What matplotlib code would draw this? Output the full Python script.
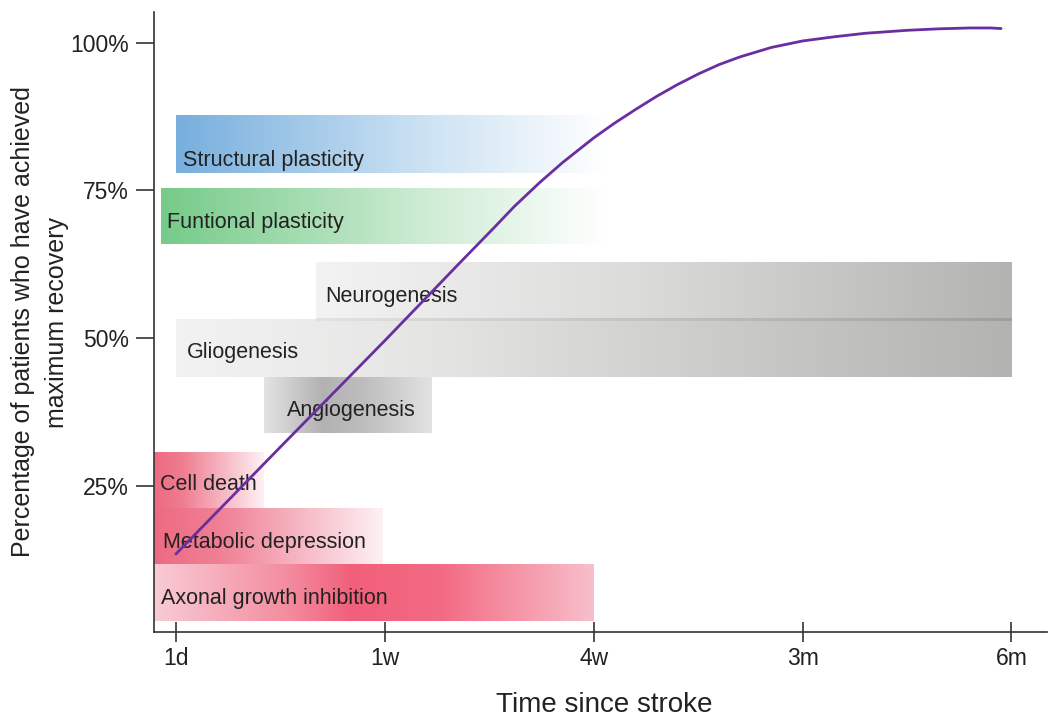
import matplotlib
matplotlib.use('Agg')

import numpy as np
import matplotlib.pyplot as plt
from matplotlib.colors import LinearSegmentedColormap

plt.rcParams['font.family'] = ['Liberation Sans', 'DejaVu Sans']

# ---- data ----
tick_labels = ['1d', '1w', '4w', '3m', '6m']
tick_pos = [0, 1, 2, 3, 4]
y_ticks = [25, 50, 75, 100]

bar_names = ['Structural plasticity', 'Funtional plasticity', 'Neurogenesis',
             'Gliogenesis', 'Angiogenesis', 'Cell death',
             'Metabolic depression', 'Axonal growth inhibition']
bar_start = [0.0, -0.07, 0.67, 0.0, 0.42, -0.105, -0.105, -0.105]
bar_end = [2.06, 2.06, 4.0, 4.0, 1.22, 0.42, 0.99, 2.0]
bar_low = [77.9, 65.9, 53.2, 43.4, 34.0, 21.3, 11.7, 2.2]
bar_high = [87.7, 75.3, 62.7, 53.2, 43.4, 30.7, 21.3, 11.7]

curve_x = [0, 0.5, 1.0, 1.36, 1.52, 1.62, 1.74, 1.85, 2.0, 2.1, 2.2, 2.3, 2.4, 2.5,
           2.6, 2.7, 2.85, 3.0, 3.15, 3.3, 3.5, 3.65, 3.8, 3.9, 3.95]
curve_y = [13.5, 31.6, 49.6, 62.8, 68.6, 72.3, 76.3, 79.7, 83.9, 86.4, 88.7, 90.9, 92.9, 94.7,
           96.3, 97.6, 99.2, 100.3, 101.0, 101.6, 102.1, 102.35, 102.5, 102.5, 102.4]

# ---- styles ----
bar_colors = [
    [(0, '#78afde'), (0.6, '#cfe4f4'), (1, '#ffffff')],
    [(0, '#76cb89'), (0.6, '#cfecd5'), (1, '#ffffff')],
    [(0, '#f3f3f3'), (0.45, '#dcdcdb'), (1, '#b3b3b1')],
    [(0, '#f2f2f2'), (0.3, '#e5e5e4'), (0.75, '#c4c4c2'), (1, '#b3b3b1')],
    [(0, '#e3e3e3'), (0.35, '#b2b2b2'), (0.6, '#bebebe'), (1, '#e2e2e2')],
    [(0, '#ee6a82'), (0.25, '#ef7c90'), (1, '#fdf1f4')],
    [(0, '#ee6a82'), (0.3, '#f08196'), (1, '#fdf1f4')],
    [(0, '#f8cbd5'), (0.3, '#f48da0'), (0.45, '#f25f7a'), (0.65, '#f36a83'), (1, '#f8bfcb')],
]
label_dx = [0.035, 0.025, 0.045, 0.05, 0.11, 0.03, 0.045, 0.035]
label_dy = [-2.7, -1.0, -0.9, -0.7, -0.9, -0.8, -1.0, -0.9]

# ---- figure ----
fig = plt.figure(figsize=(10.49, 7.18), dpi=100)
ax = fig.add_axes([154 / 1049, 1 - 632 / 718, (1047 - 154) / 1049, (632 - 12) / 718])

grad = np.linspace(0, 1, 256).reshape(1, -1)
for i, name in enumerate(bar_names):
    cmap = LinearSegmentedColormap.from_list(name, bar_colors[i])
    ax.imshow(grad, cmap=cmap, aspect='auto', interpolation='bilinear',
              extent=[bar_start[i], bar_end[i], bar_low[i], bar_high[i]], zorder=1)
    ax.text(bar_start[i] + label_dx[i], (bar_low[i] + bar_high[i]) / 2 + label_dy[i], name,
            fontsize=15.5, color='#222222', va='center', ha='left', zorder=3)

# divider line between neurogenesis and gliogenesis
line_cmap = LinearSegmentedColormap.from_list('div', ['#e2e2e2', '#9f9f9f'])
ax.imshow(grad, cmap=line_cmap, aspect='auto', interpolation='bilinear',
          extent=[bar_start[2], bar_end[2], bar_low[2] - 0.25, bar_low[2] + 0.25], zorder=2)

ax.plot(curve_x, curve_y, color='#6a2ea2', linewidth=2.0, zorder=4,
        solid_capstyle='round', solid_joinstyle='round')

ax.set_xlim(-0.105, 4.17)
ax.set_ylim(0.3, 105.2)

ax.spines['top'].set_visible(False)
ax.spines['right'].set_visible(False)
for s in ['left', 'bottom']:
    ax.spines[s].set_linewidth(1.2)
    ax.spines[s].set_color('#333333')

ax.set_xticks(tick_pos)
ax.set_xticklabels(tick_labels)
ax.set_yticks(y_ticks)
ax.set_yticklabels([f'{v}%' for v in y_ticks])
ax.tick_params(axis='x', direction='inout', length=14, width=1.2, color='#333333',
               labelsize=16.5, pad=4, labelcolor='#222222')
ax.tick_params(axis='y', direction='out', length=13, width=1.2, color='#333333',
               labelsize=16.5, pad=5, labelcolor='#222222')

fig.text(40 / 1049, 1 - 322 / 718, 'Percentage of patients who have achieved\nmaximum recovery',
         rotation=90, ha='center', va='center', multialignment='center',
         fontsize=18, color='#222222', linespacing=1.5)
fig.text(604 / 1049, 1 - 705 / 718, 'Time since stroke', ha='center', va='center',
         fontsize=20, color='#222222')

plt.savefig('out.png', dpi=100)
